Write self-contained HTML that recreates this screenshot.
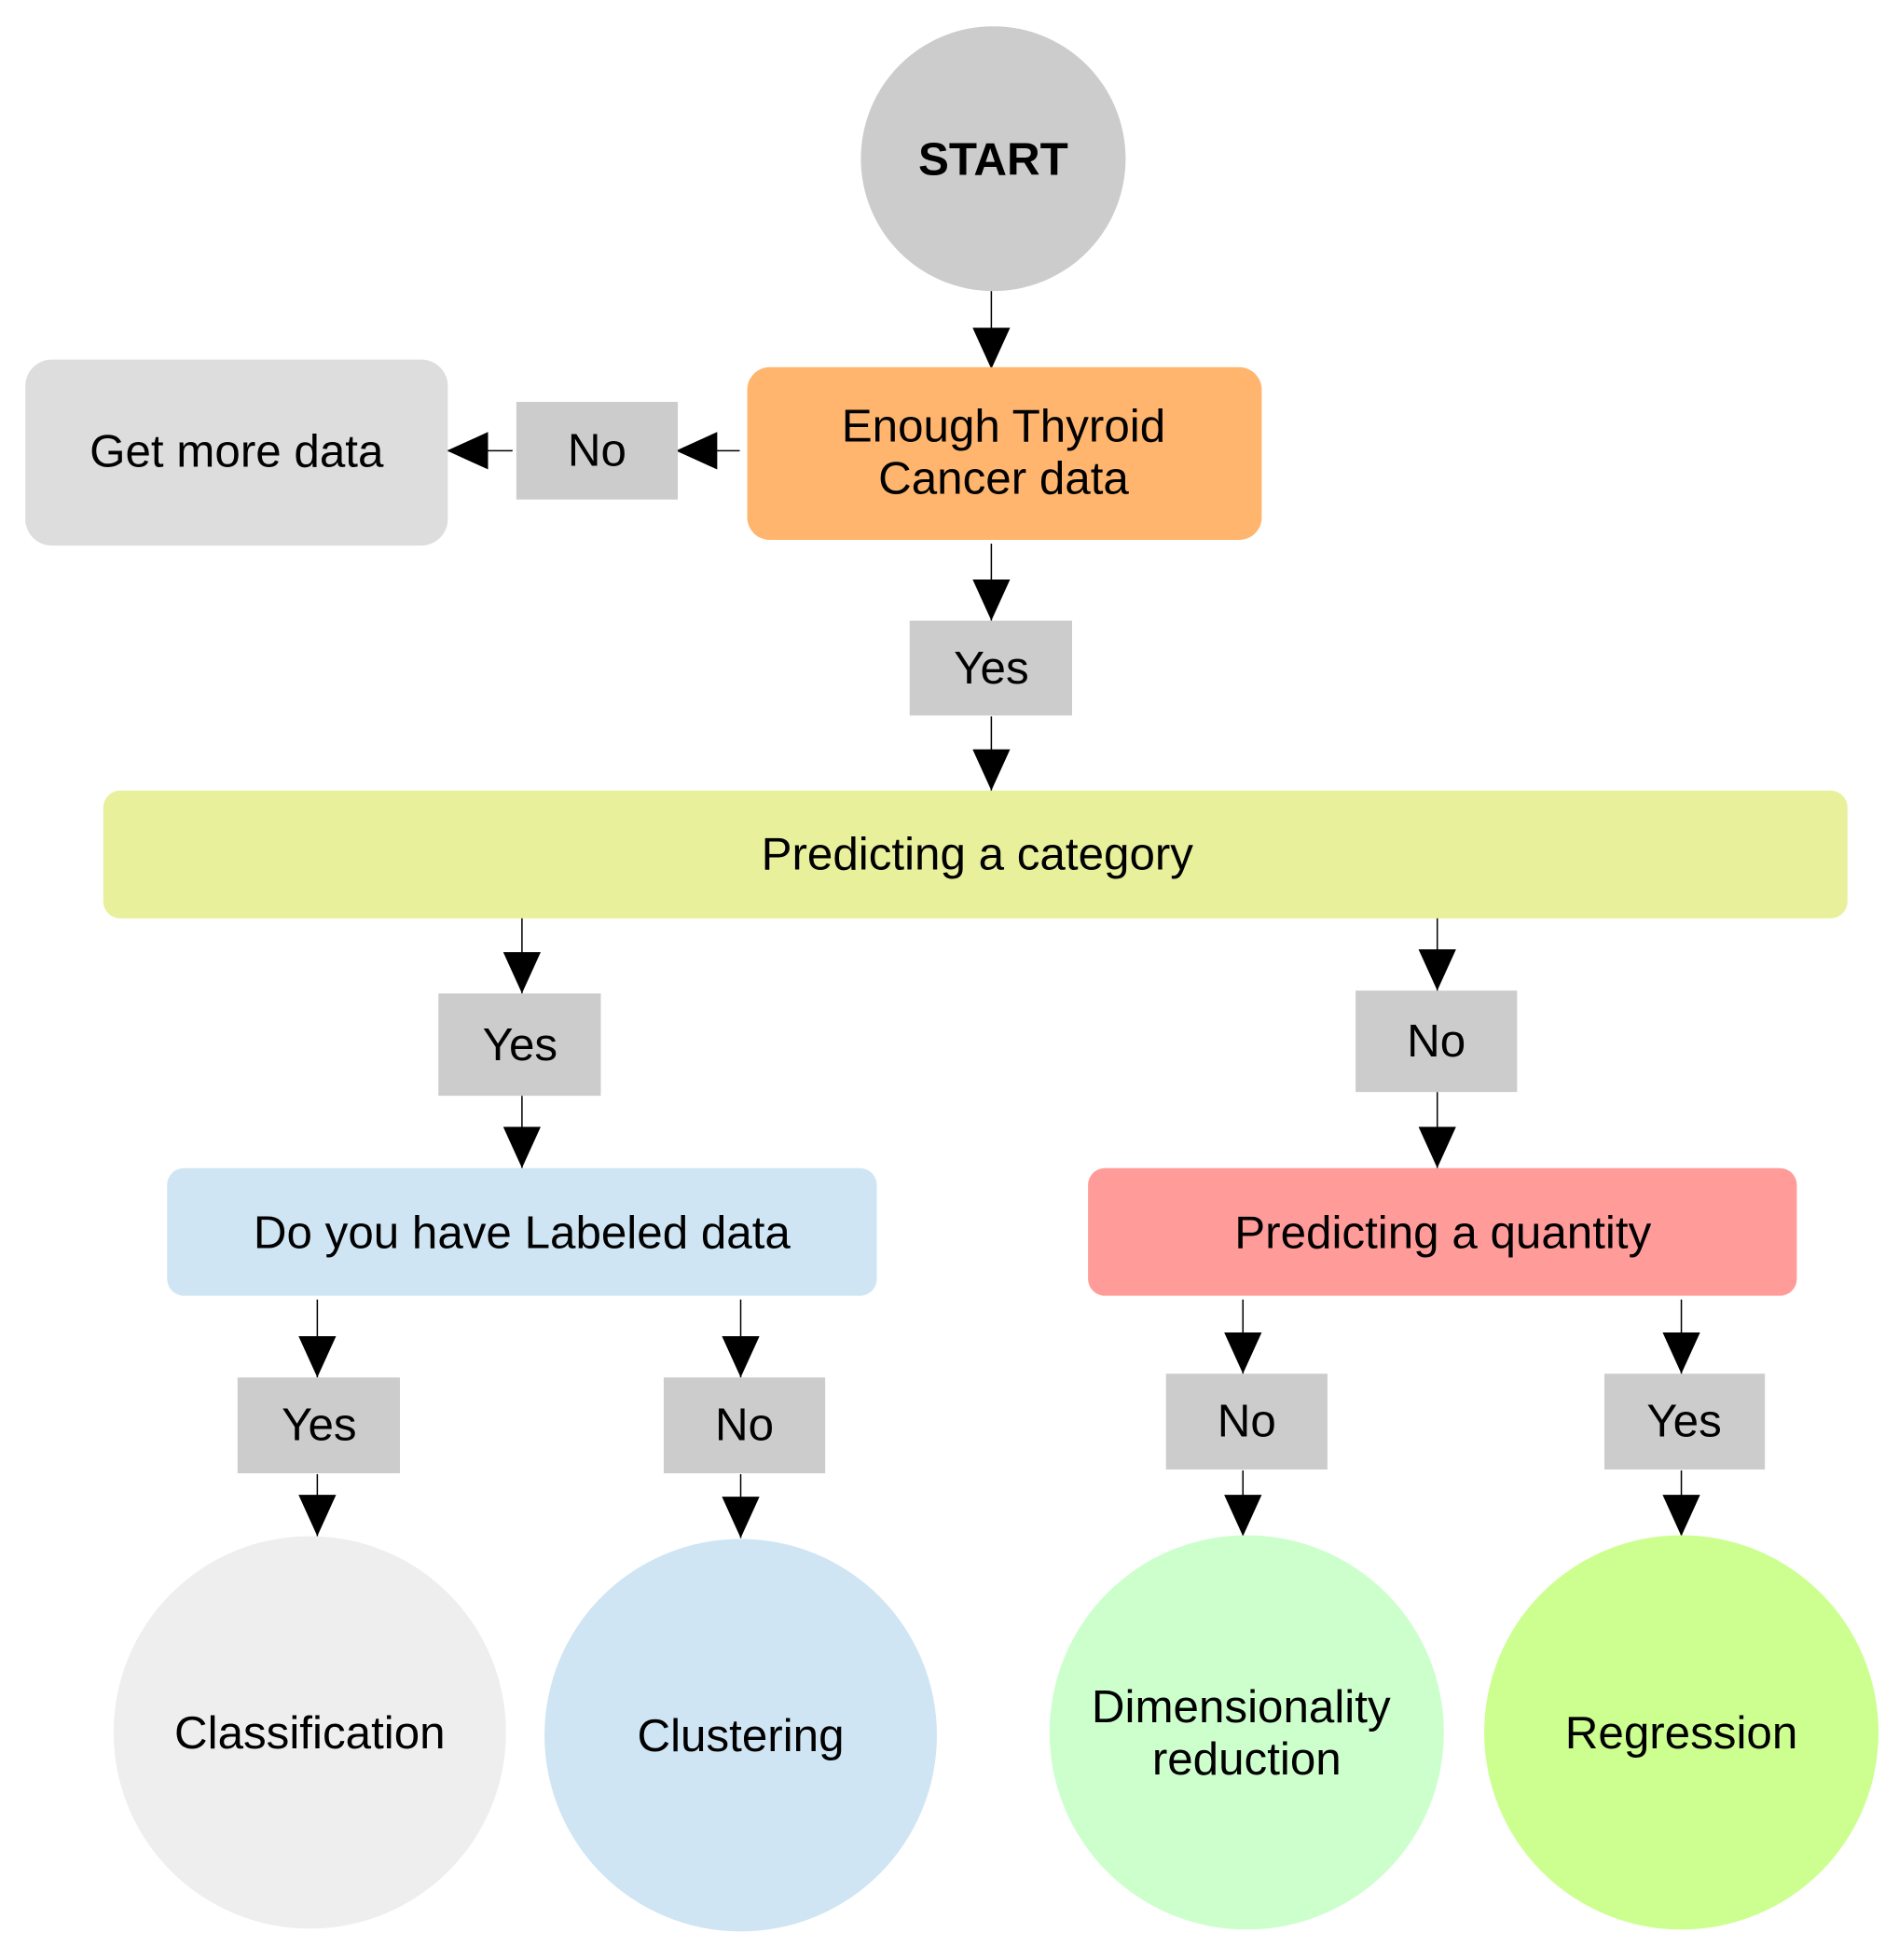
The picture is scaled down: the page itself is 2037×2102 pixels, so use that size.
<!DOCTYPE html>
<html><head><style>html,body{margin:0;padding:0;background:#fff}svg{display:block}</style></head>
<body>
<svg width="2037" height="2102" viewBox="0 0 2037 2102" xmlns="http://www.w3.org/2000/svg" font-family="Liberation Sans, Arial, sans-serif" font-size="49" text-anchor="middle">
<defs>
<marker id="a" markerWidth="44" markerHeight="40" refX="44" refY="20" orient="auto" markerUnits="userSpaceOnUse">
<path d="M0,0 L44,20 L0,40 Z" fill="#000"/>
</marker>
</defs>
<rect width="2037" height="2102" fill="#fff"/>
<g transform="scale(1.007)">
<g stroke="#000" stroke-width="1.5" fill="none" marker-end="url(#a)">
<line x1="1056" y1="310" x2="1056" y2="393"/>
<line x1="788" y1="480" x2="720" y2="480"/>
<line x1="546" y1="480" x2="476" y2="480"/>
<line x1="1056" y1="579" x2="1056" y2="661"/>
<line x1="1056" y1="763" x2="1056" y2="842"/>
<line x1="556" y1="977" x2="556" y2="1058"/>
<line x1="556" y1="1167" x2="556" y2="1244"/>
<line x1="1531" y1="977" x2="1531" y2="1055"/>
<line x1="1531" y1="1163" x2="1531" y2="1244"/>
<line x1="338" y1="1384" x2="338" y2="1467"/>
<line x1="789" y1="1384" x2="789" y2="1467"/>
<line x1="1324" y1="1384" x2="1324" y2="1463"/>
<line x1="1791" y1="1384" x2="1791" y2="1463"/>
<line x1="338" y1="1570" x2="338" y2="1636"/>
<line x1="789" y1="1570" x2="789" y2="1638"/>
<line x1="1324" y1="1566" x2="1324" y2="1636"/>
<line x1="1791" y1="1566" x2="1791" y2="1636"/>
</g>
<circle cx="1058" cy="169" r="141" fill="#cccccc"/>
<text x="1058" y="186" font-weight="bold">START</text>
<rect x="796" y="391" width="548" height="184" rx="24" fill="#ffb56d"/>
<text x="1069" y="470">Enough Thyroid</text>
<text x="1069" y="526">Cancer data</text>
<rect x="27" y="383" width="450" height="198" rx="28" fill="#dddddd"/>
<text x="252" y="497">Get more data</text>
<rect x="550" y="428" width="172" height="104" fill="#cccccc"/>
<text x="636" y="496">No</text>
<rect x="969" y="661" width="173" height="101" fill="#cccccc"/>
<text x="1056" y="728">Yes</text>
<rect x="110" y="842" width="1858" height="136" rx="18" fill="#e8f09c"/>
<text x="1041" y="926">Predicting a category</text>
<rect x="467" y="1058" width="173" height="109" fill="#cccccc"/>
<text x="554" y="1129">Yes</text>
<rect x="1444" y="1055" width="172" height="108" fill="#cccccc"/>
<text x="1530" y="1125">No</text>
<rect x="178" y="1244" width="756" height="136" rx="18" fill="#cfe5f3"/>
<text x="556" y="1329">Do you have Labeled data</text>
<rect x="1159" y="1244" width="755" height="136" rx="18" fill="#ff9b99"/>
<text x="1537" y="1329">Predicting a quantity</text>
<rect x="253" y="1467" width="173" height="102" fill="#cccccc"/>
<text x="340" y="1534">Yes</text>
<rect x="707" y="1467" width="172" height="102" fill="#cccccc"/>
<text x="793" y="1534">No</text>
<rect x="1242" y="1463" width="172" height="102" fill="#cccccc"/>
<text x="1328" y="1530">No</text>
<rect x="1709" y="1463" width="171" height="102" fill="#cccccc"/>
<text x="1794" y="1530">Yes</text>
<circle cx="330" cy="1845" r="209" fill="#eeeeee"/>
<text x="330" y="1862">Classification</text>
<circle cx="789" cy="1848" r="209" fill="#cfe5f3"/>
<text x="789" y="1865">Clustering</text>
<circle cx="1328" cy="1845" r="210" fill="#ccffcc"/>
<text x="1322" y="1834">Dimensionality</text>
<text x="1328" y="1890">reduction</text>
<circle cx="1791" cy="1845" r="210" fill="#ccff90"/>
<text x="1791" y="1862">Regression</text>
</g>
</svg>
</body></html>
